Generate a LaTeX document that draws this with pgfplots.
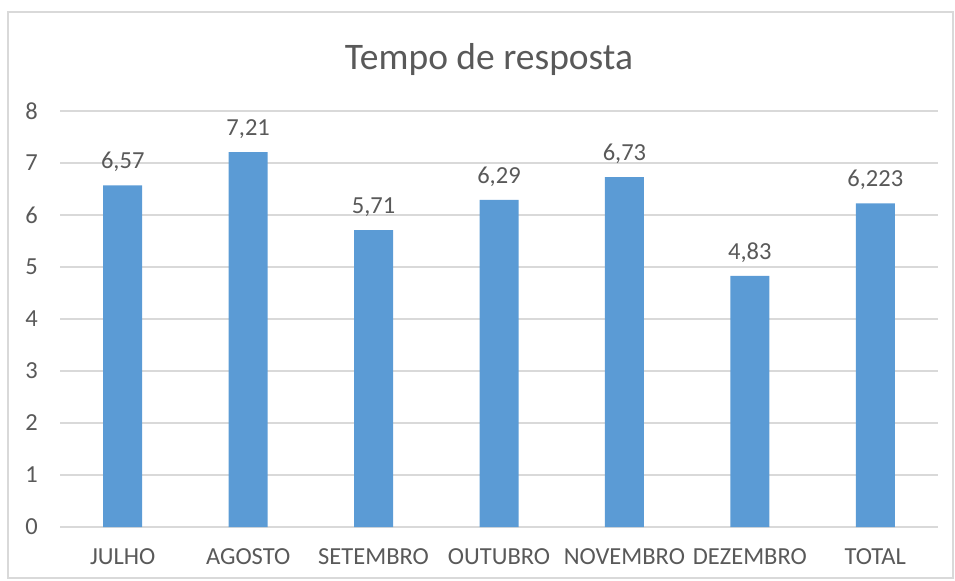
\documentclass[border=0pt]{standalone}
\usepackage{fontspec}
\setmainfont{Carlito}
\usepackage{pgfplots}
\pgfplotsset{compat=1.18}
\definecolor{barblue}{HTML}{5B9BD5}
\definecolor{gridgray}{HTML}{D9D9D9}
\definecolor{txtgray}{HTML}{595959}
\begin{document}
\begin{tikzpicture}
\useasboundingbox (-60bp,-54bp) rectangle (895bp,527bp);
\draw[gridgray, line width=1.2bp] (-52bp,-51bp) rectangle (893bp,515bp);
\begin{axis}[
  at={(0,0)}, anchor=south west,
  scale only axis, width=878bp, height=416bp,
  xmin=-0.5, xmax=6.5, ymin=0, ymax=8,
  axis line style={draw=none},
  ytick={0,1,...,8},
  xtick={0,...,6},
  xticklabels={JULHO,AGOSTO,SETEMBRO,OUTUBRO,NOVEMBRO,DEZEMBRO,TOTAL},
  major tick length=0pt,
  ymajorgrids, grid style={gridgray, line width=1.2bp},
  tick label style={font=\fontsize{24.5bp}{28bp}\selectfont, text=txtgray},
  yticklabel style={inner sep=0pt, xshift=-22bp},
  xticklabel style={inner sep=0pt, anchor=center, yshift=-30bp},
  /pgf/number format/assume math mode=true,
  title={Tempo de resposta},
  title style={font=\fontsize{37.5bp}{42bp}\selectfont, text=txtgray, anchor=center, at={(0.5,1)}, yshift=46bp, xshift=-10bp},
  nodes near coords,
  nodes near coords style={font=\fontsize{24.5bp}{28bp}\selectfont, text=txtgray, anchor=south, yshift=10bp},
  every node near coord/.append style={/pgf/number format/.cd, fixed, precision=3, use comma},
]
\addplot[ybar, bar width=39bp, fill=barblue, draw=none] coordinates {
  (0,6.57) (1,7.21) (2,5.71) (3,6.29) (4,6.73) (5,4.83) (6,6.223)
};
\end{axis}
\end{tikzpicture}
\end{document}
